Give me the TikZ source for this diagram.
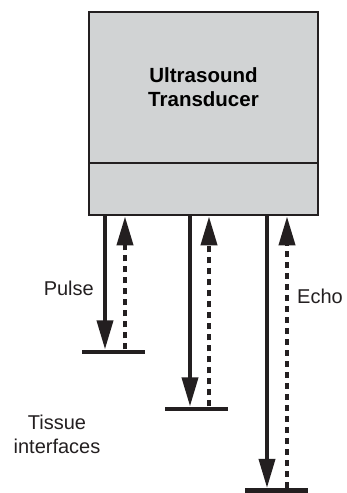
\documentclass[tikz,border=0pt]{standalone}
\usepackage{fontspec}
\setmainfont{Liberation Sans}
\usepackage{xcolor}
\usetikzlibrary{arrows.meta,positioning,calc}
\definecolor{probegray}{RGB}{209,211,212}
\definecolor{inkblack}{RGB}{35,31,32}
\tikzset{
  pulsearr/.style={-{Triangle[length=29pt, width=16pt]}, line width=3.8pt, draw=inkblack},
  echoarr/.style={-{Triangle[length=29pt, width=16pt]}, line width=4pt, draw=inkblack,
    dash pattern=on 6pt off 5pt},
  ifacebar/.style={fill=inkblack, inner sep=0pt, minimum width=63pt, minimum height=4.8pt},
}

\begin{document}
\begin{tikzpicture}[
  x=1pt, y=-1pt,
  font=\fontsize{20}{24}\selectfont,
  probe/.style={draw=inkblack, line width=2.8pt, fill=probegray, minimum width=229pt, inner sep=0pt},
  lbl/.style={inner sep=0pt, text=inkblack},
]
  \useasboundingbox (0,0) rectangle (346,493);

  \node[probe, minimum height=151pt, align=center, font=\fontsize{20.5}{24}\selectfont\bfseries] (head) at (203.5,87.5) {Ultrasound\\Transducer};
  \node[probe, minimum height=52pt] (face) at (203.5,189) {};

  \node[ifacebar] (bar1) at (113.5,352) {};
  \node[ifacebar] (bar2) at (196,409) {};
  \node[ifacebar] (bar3) at (276.5,490.5) {};

  \coordinate (s1) at ([xshift=-8.5pt]bar1.north);
  \coordinate (e1) at ([xshift=11.5pt]bar1.north);
  \coordinate (s2) at ([xshift=-6pt]bar2.north);
  \coordinate (e2) at ([xshift=13pt]bar2.north);
  \coordinate (s3) at ([xshift=-9.5pt]bar3.north);
  \coordinate (e3) at ([xshift=10.5pt]bar3.north);

  \draw[pulsearr] (face.south -| s1) -- (s1);
  \draw[echoarr] (e1) -- (face.south -| e1);
  \draw[pulsearr] (face.south -| s2) -- (s2);
  \draw[echoarr] (e2) -- (face.south -| e2);
  \draw[pulsearr] (face.south -| s3) -- (s3);
  \draw[echoarr] (e3) -- (face.south -| e3);

  \node[lbl, anchor=base east] (pulse) at (94,295) {Pulse};
  \node[lbl, anchor=base west] (echo) at (297,303) {Echo};
  \node[lbl, align=center, anchor=base] (tissue) at (57,453) {Tissue\\interfaces};
\end{tikzpicture}
\end{document}
